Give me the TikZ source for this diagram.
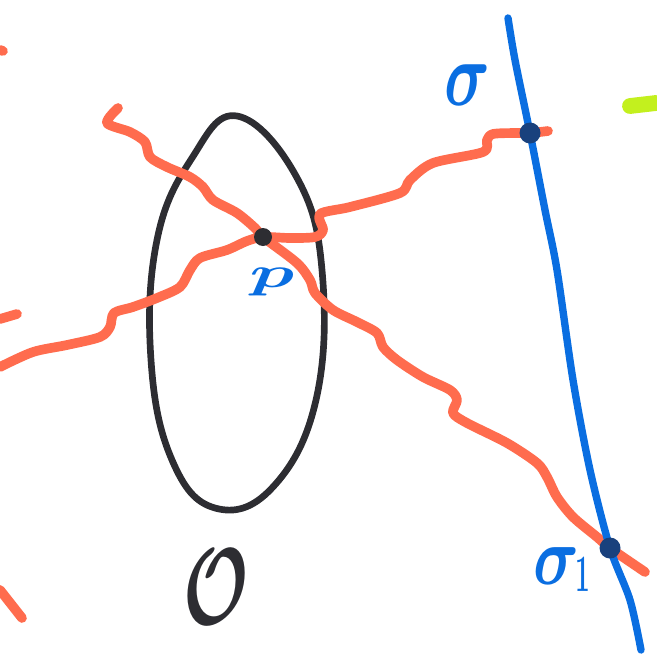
\documentclass[tikz,border=0pt]{standalone}
\usepackage{amsmath}
\usepackage{bm}
\usepackage{tikz}
\usetikzlibrary{calc}
\definecolor{myorange}{RGB}{255,108,78}
\definecolor{myblue}{RGB}{10,110,225}
\definecolor{mynavy}{RGB}{25,65,125}
\definecolor{mygray}{RGB}{45,45,50}
\definecolor{mygreen}{RGB}{195,240,30}

\begin{document}
\begin{tikzpicture}[x=0.02cm, y=-0.02cm, line cap=round, line join=round,
    ray/.style={myorange, line width=5.5pt},
    region/.style={mygray, line width=3.8pt},
    worldline/.style={myblue, line width=4.2pt},
    bluelbl/.style={text=myblue, inner sep=0pt}]
  \useasboundingbox (0,0) rectangle (656,659);
  % Points
  \coordinate (p) at (263,237);
  \coordinate (s) at (530,133);
  \coordinate (s1) at (610,548);

  % Region
  \draw[region] plot[smooth cycle, tension=0.7] coordinates {(237,116) (296,176) (322,270)
    (316,400) (272,488) (215,508) (172,460) (151,360) (157,240) (192,158)};

  % Rays
  \draw[ray] plot[smooth, tension=0.5] coordinates {(118,108) (107,123) (130,132) (145,142) (150,157)
    (167,167) (190,177) (203,187) (213,200) (237,213) (255,228) (p) (297,263) (310,280) (315,293)
    (333,310) (357,322) (377,333) (383,347) (397,360) (423,377) (450,390) (457,400) (453,413)
    (467,423) (507,443) (537,463) (547,477) (557,497) (573,517) (597,537) (s1) (645,572)};
  \draw[ray] plot[smooth, tension=0.5] coordinates {(0,367) (33,352) (67,345) (100,337) (110,327)
    (114,313) (133,307) (157,298) (180,287) (190,270) (200,258) (227,250) (247,241) (p)
    (290,238) (315,237) (323,230) (320,214) (350,207) (400,193) (410,180) (433,163) (483,152)
    (487,140) (493,134) (515,133) (s) (548,131)};
  % cut-off marks at the edges
  \draw[ray] (0,50) -- (3,51);
  \draw[ray] (0,319) -- (17,314);
  \draw[ray] (0,590) -- (22,618);
  \draw[mygreen, line width=9pt] (630,106) -- (656,103);

  % Curve
  \draw[worldline] plot[smooth, tension=0.5] coordinates {(508,18) (515,60) (s) (545,210)
    (557,270) (573,380) (590,470) (s1) (630,600) (641,650)};

  % Dots
  \fill[mygray] (p) circle (9);
  \fill[mynavy] (s) circle (10.5);
  \fill[mynavy] (s1) circle (10.5);

  % Labels
  \node[bluelbl, font=\fontsize{50}{50}\selectfont] (lsig) at (467,85)
    {\scalebox{1.45}[2.1]{$\bm{\sigma}$}};
  \node[bluelbl, font=\fontsize{44}{44}\selectfont] (lp) at (272,282)
    {\scalebox{1.7}[1]{$\bm{p}$}};
  \node[bluelbl, font=\fontsize{50}{50}\selectfont] (lsig1) at (562,570)
    {\scalebox{1.45}[1.9]{$\bm{\sigma}$}\kern-2pt\raisebox{-4pt}{\scalebox{0.6}[1.2]{$\bm{1}$}}};
  \node[text=mygray, inner sep=0pt, font=\fontsize{62}{62}\selectfont] (lO) at (216,587)
    {\scalebox{1.6}[2.5]{$\bm{\mathcal{O}}$}};
\end{tikzpicture}
\end{document}
